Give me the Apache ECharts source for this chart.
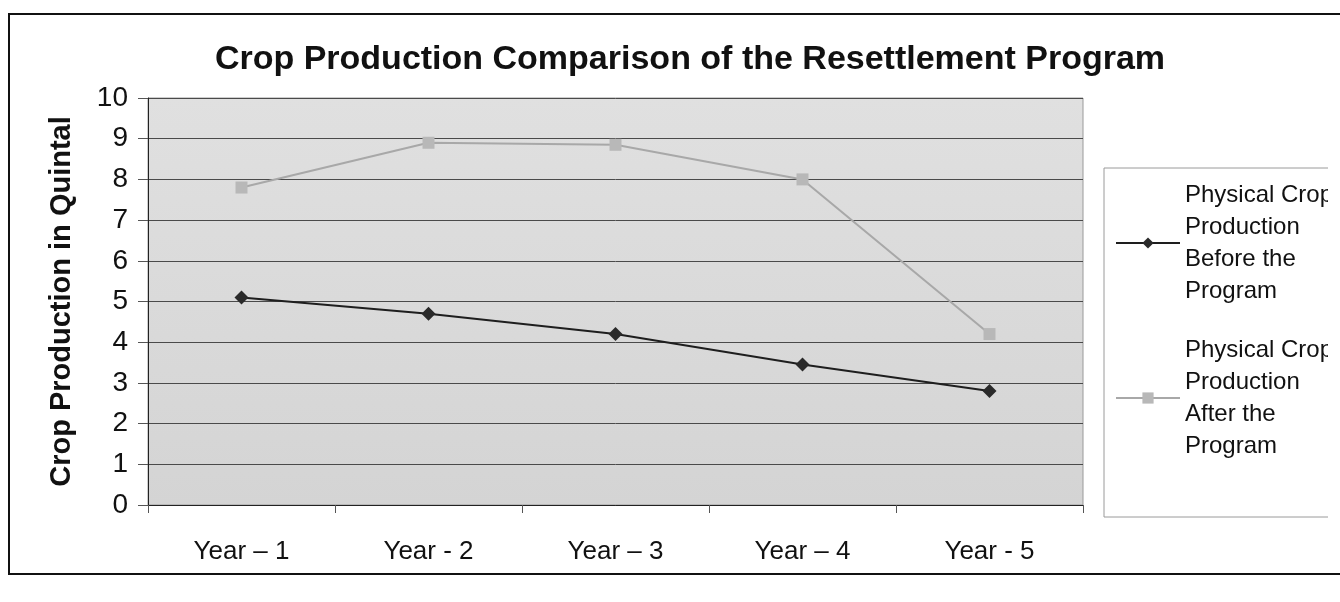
<!DOCTYPE html>
<html>
<head>
<meta charset="utf-8">
<script src="https://cdn.jsdelivr.net/npm/echarts@6/dist/echarts.min.js"></script>
<style>
html,body{margin:0;padding:0;background:#fff;}
#wrap{position:relative;width:1340px;height:602px;overflow:hidden;}
#chart{position:absolute;left:0;top:0;width:1328px;height:602px;}
#frame{position:absolute;left:8px;top:13px;width:1340px;height:558px;border-left:2px solid #111;border-top:2px solid #111;border-bottom:2px solid #111;pointer-events:none;}
</style>
</head>
<body>
<div id="wrap"><div id="chart"></div><div id="frame"></div></div>
<script>
const categories = ['Year \u2013 1', 'Year - 2', 'Year \u2013 3', 'Year \u2013 4', 'Year - 5'];
const beforeValues = [5.1, 4.7, 4.2, 3.45, 2.8];
const afterValues = [7.8, 8.9, 8.85, 8.0, 4.2];
const seriesNames = ['Physical Crop\nProduction\nBefore the\nProgram', 'Physical Crop\nProduction\nAfter the\nProgram'];
const yTicks = [0, 1, 2, 3, 4, 5, 6, 7, 8, 9, 10];

const font = '"Liberation Sans", Arial, sans-serif';
const chart = echarts.init(document.getElementById('chart'), null, {renderer: 'canvas'});

const legendText = {
  fontFamily: font, fontSize: 24, color: '#111', lineHeight: 32,
  padding: [96, 0, 0, 0]
};

chart.setOption({
  animation: false,
  backgroundColor: '#fff',
  title: {
    text: 'Crop Production Comparison of the Resettlement Program',
    left: 685, top: 38, textAlign: 'center',
    textStyle: {fontFamily: font, fontSize: 34, fontWeight: 'bold', color: '#111'}
  },
  graphic: [
    {type: 'rect', shape: {x: 1104, y: 168, width: 260, height: 349}, style: {fill: '#fff', stroke: '#9a9a9a', lineWidth: 1}, z: -1, silent: true}
  ],
  grid: {
    left: 148, right: 1328 - 1083, top: 98, bottom: 97,
    show: true, borderColor: '#9a9a9a', borderWidth: 1,
    backgroundColor: new echarts.graphic.LinearGradient(0, 0, 0, 1, [
      {offset: 0, color: '#e0e0e0'}, {offset: 1, color: '#d4d4d4'}
    ])
  },
  legend: [
    {
      data: [seriesNames[0]], orient: 'vertical', left: 1115, top: 131, padding: 0,
      itemWidth: 64, itemHeight: 14, textStyle: legendText, selectedMode: false
    },
    {
      data: [seriesNames[1]], orient: 'vertical', left: 1115, top: 286, padding: 0,
      itemWidth: 64, itemHeight: 14, textStyle: legendText, selectedMode: false
    }
  ],
  xAxis: {
    type: 'category', data: categories, boundaryGap: true,
    axisLine: {lineStyle: {color: '#222', width: 1}},
    axisTick: {show: true, length: 8, lineStyle: {color: '#555'}},
    axisLabel: {fontFamily: font, fontSize: 26, color: '#111', margin: 34}
  },
  yAxis: {
    type: 'value', min: 0, max: 10, interval: 1,
    name: 'Crop Production in Quintal', nameLocation: 'middle', nameGap: 72,
    nameTextStyle: {fontFamily: font, fontSize: 29, fontWeight: 'bold', color: '#111'},
    axisLine: {show: true, lineStyle: {color: '#222', width: 1}},
    axisTick: {show: true, length: 10, lineStyle: {color: '#555'}},
    axisLabel: {fontFamily: font, fontSize: 28, color: '#111', margin: 20,
      formatter: v => yTicks.includes(v) ? String(v) : ''},
    splitLine: {show: true, lineStyle: {color: '#4a4a4a', width: 1}}
  },
  series: [
    {
      name: seriesNames[0], type: 'line', data: beforeValues,
      symbol: 'diamond', symbolSize: 14,
      lineStyle: {color: '#1e1e1e', width: 2},
      itemStyle: {color: '#2a2a2a'}
    },
    {
      name: seriesNames[1], type: 'line', data: afterValues,
      symbol: 'rect', symbolSize: 12,
      lineStyle: {color: '#a8a8a8', width: 2},
      itemStyle: {color: '#b8b8b8'}
    }
  ]
});
</script>
</body>
</html>
